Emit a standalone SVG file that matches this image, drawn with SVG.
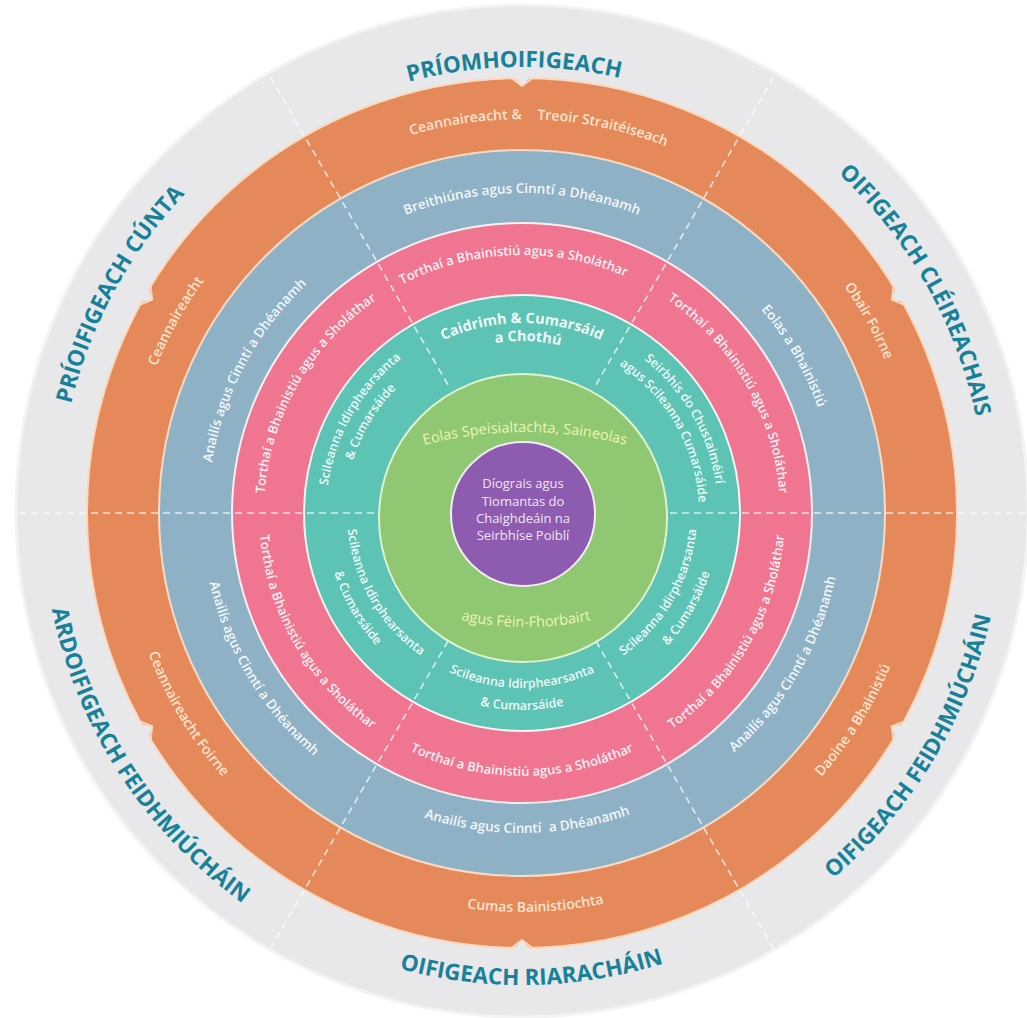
<svg xmlns="http://www.w3.org/2000/svg" width="1027" height="1018" viewBox="0 0 1027 1018">
<style>
text{font-family:"Open Sans","Liberation Sans",sans-serif;text-anchor:middle}
.title{font-weight:700;font-size:22.5px;fill:#17819a}
.lo{font-weight:600;font-size:14px;fill:#fde4cf}
.lb{font-weight:600;font-size:13.5px;fill:#f3f7fa}
.lp{font-weight:600;font-size:13px;fill:#fff0f3}
.lt{font-weight:600;font-size:12.5px;fill:#effaf7}
.ltb{font-weight:700;font-size:14.5px;fill:#effaf7}
.lg{font-weight:400;font-size:14.5px;fill:#eef6b0}
.lc{font-weight:400;font-size:13px;fill:#f2e6f7}
.div{stroke:#ffffff;stroke-opacity:0.75;stroke-width:1.6;stroke-dasharray:7 5;fill:none}
.notch{fill:#e8e8ea}
.notchEdge{fill:none;stroke:#fbd9bf;stroke-width:2}
</style>
<defs>
<path id="t446" d="M76,513 A446,446 0 0 1 968,513"/>
<path id="t464" d="M58,513 A464,464 0 0 1 986,513"/>
<path id="b472" d="M50,513 A472,472 0 0 0 994,513"/>
<path id="b480" d="M42,513 A480,480 0 0 0 1002,513"/>
<path id="t394" d="M128,513 A394,394 0 0 1 916,513"/>
<path id="b399" d="M123,513 A399,399 0 0 0 921,513"/>
<path id="t320" d="M202,513 A320,320 0 0 1 842,513"/>
<path id="t314" d="M208,513 A314,314 0 0 1 836,513"/>
<path id="b320" d="M202,513 A320,320 0 0 0 842,513"/>
<path id="t258" d="M264,513 A258,258 0 0 1 780,513"/>
<path id="b263" d="M259,513 A263,263 0 0 0 785,513"/>
<path id="t190" d="M332,513 A190,190 0 0 1 712,513"/>
<path id="t172" d="M350,513 A172,172 0 0 1 694,513"/>
<path id="t196" d="M326,513 A196,196 0 0 1 718,513"/>
<path id="t177" d="M345,513 A177,177 0 0 1 699,513"/>
<path id="b175" d="M347,513 A175,175 0 0 0 697,513"/>
<path id="b197" d="M325,513 A197,197 0 0 0 719,513"/>
<path id="g1" d="M125,832 A400,400 0 0 1 925,832"/>
<path id="g2" d="M226,327 A300,300 0 0 0 826,327"/>
</defs>
<rect width="1027" height="1018" fill="#ffffff"/>

<g id="ring-grades">
<circle cx="522" cy="511" r="506" fill="#e8e8ea" stroke="#f3f3f4" stroke-width="3"/>
<text class="title" transform="rotate(-1 522 513)"><textPath href="#t446" startOffset="50%">PRÍOMHOIFIGEACH</textPath></text>
<text class="title" transform="rotate(60.5 522 513)"><textPath href="#t464" startOffset="50%">OIFIGEACH CLÉIREACHAIS</textPath></text>
<text class="title" transform="rotate(-61.5 522 513)"><textPath href="#t464" startOffset="50%">PRÍOIFIGEACH CÚNTA</textPath></text>
<text class="title" transform="rotate(-1.2 522 513)"><textPath href="#b472" startOffset="50%">OIFIGEACH RIARACHÁIN</textPath></text>
<text class="title" transform="rotate(-59 522 513)"><textPath href="#b480" startOffset="50%">OIFIGEACH FEIDHMIÚCHÁIN</textPath></text>
<text class="title" transform="rotate(57 522 513)"><textPath href="#b480" startOffset="50%">ARDOIFIGEACH FEIDHMIÚCHÁIN</textPath></text>
</g>

<g id="ring-orange">
<circle cx="522" cy="513" r="435" fill="#e6895a" stroke="#fbd9bf" stroke-width="2"/>
<g id="notches">
<g transform="rotate(0 522 513)"><polygon class="notch" points="511,74 522,86 533,74"/><polyline class="notchEdge" points="511,77.6 522,86 533,77.6"/></g>
<g transform="rotate(60 522 513)"><polygon class="notch" points="511,74 522,86 533,74"/><polyline class="notchEdge" points="511,77.6 522,86 533,77.6"/></g>
<g transform="rotate(120 522 513)"><polygon class="notch" points="511,74 522,86 533,74"/><polyline class="notchEdge" points="511,77.6 522,86 533,77.6"/></g>
<g transform="rotate(180 522 513)"><polygon class="notch" points="511,74 522,86 533,74"/><polyline class="notchEdge" points="511,77.6 522,86 533,77.6"/></g>
<g transform="rotate(240 522 513)"><polygon class="notch" points="511,74 522,86 533,74"/><polyline class="notchEdge" points="511,77.6 522,86 533,77.6"/></g>
<g transform="rotate(300 522 513)"><polygon class="notch" points="511,74 522,86 533,74"/><polyline class="notchEdge" points="511,77.6 522,86 533,77.6"/></g>
</g>
<text class="lo" transform="rotate(2.5 522 513)"><textPath href="#t394" startOffset="50%">Ceannaireacht &amp;<tspan dx="12"> Treoir Straitéiseach</tspan></textPath></text>
<text class="lo" transform="rotate(-61 522 513)"><textPath href="#t394" startOffset="50%">Ceannaireacht</textPath></text>
<text class="lo" transform="rotate(61 522 513)"><textPath href="#t394" startOffset="50%">Obair Foirne</textPath></text>
<text class="lo" transform="rotate(-58 522 513)"><textPath href="#b399" startOffset="50%">Daoine a Bhainistiú</textPath></text>
<text class="lo" transform="rotate(59 522 513)"><textPath href="#b399" startOffset="50%">Ceannaireacht Foirne</textPath></text>
<text class="lo" transform="rotate(-2 522 513)"><textPath href="#b399" startOffset="50%">Cumas Bainistiochta</textPath></text>
</g>

<g id="ring-blue">
<circle cx="522" cy="513" r="363" fill="#8eb1c5" stroke="#f6dcc6" stroke-width="2"/>
<text class="lb"><textPath href="#t320" startOffset="50%">Breithiúnas agus Cinntí a Dhéanamh</textPath></text>
<text class="lb" transform="rotate(-62 522 513)"><textPath href="#t314" startOffset="50%">Anailís agus Cinntí a Dhéanamh</textPath></text>
<text class="lb" transform="rotate(60 522 513)"><textPath href="#t314" startOffset="50%">Eolas a Bhainistiú</textPath></text>
<text class="lb" transform="rotate(-60 522 513)"><textPath href="#b320" startOffset="50%">Anailís agus Cinntí a Dhéanamh</textPath></text>
<text class="lb" transform="rotate(59 522 513)"><textPath href="#b320" startOffset="50%">Anailís agus Cinntí a Dhéanamh</textPath></text>
<text class="lb" transform="rotate(-1 522 513)"><textPath href="#b320" startOffset="50%">Anailís agus Cinntí <tspan dx="4">a Dhéanamh</tspan></textPath></text>
</g>

<g id="ring-pink">
<circle cx="522" cy="513" r="290" fill="#f07590" stroke="#f7f0f2" stroke-width="2"/>
<text class="lp" transform="rotate(-2 522 513)"><textPath href="#t258" startOffset="50%">Torthaí a Bhainistiú agus a Sholáthar</textPath></text>
<text class="lp" transform="rotate(-60 522 513)"><textPath href="#t258" startOffset="50%">Torthaí a Bhainistiú agus a Sholáthar</textPath></text>
<text class="lp" transform="rotate(60 522 513)"><textPath href="#t258" startOffset="50%">Torthaí a Bhainistiú agus a Sholáthar</textPath></text>
<text class="lp" transform="rotate(-60 522 513)"><textPath href="#b263" startOffset="50%">Torthaí a Bhainistiú agus a Sholáthar</textPath></text>
<text class="lp" transform="rotate(60 522 513)"><textPath href="#b263" startOffset="50%">Torthaí a Bhainistiú agus a Sholáthar</textPath></text>
<text class="lp"><textPath href="#b263" startOffset="50%">Torthaí a Bhainistiú agus a Sholáthar</textPath></text>
</g>

<g id="ring-teal">
<circle cx="522" cy="513" r="218" fill="#5cc3b5" stroke="#f3f6f5" stroke-width="2"/>
<text class="ltb"><textPath href="#t190" startOffset="50%">Caidrimh &amp; Cumarsáid</textPath></text>
<text class="ltb" transform="rotate(2 522 513)"><textPath href="#t172" startOffset="50%">a Chothú</textPath></text>
<text class="lt" transform="rotate(60 522 513)"><textPath href="#t196" startOffset="50%">Seirbhís do Chustaiméirí</textPath></text>
<text class="lt" transform="rotate(60 522 513)"><textPath href="#t177" startOffset="50%">agus Scileanna Cumarsáide</textPath></text>
<text class="lt" transform="rotate(-60 522 513)"><textPath href="#t196" startOffset="50%">Scileanna Idirphearsanta</textPath></text>
<text class="lt" transform="rotate(-59 522 513)"><textPath href="#t177" startOffset="50%">&amp; Cumarsáide</textPath></text>
<text class="lt" transform="rotate(60 522 513)"><textPath href="#b175" startOffset="50%">Scileanna Idirphearsanta</textPath></text>
<text class="lt" transform="rotate(60 522 513)"><textPath href="#b197" startOffset="50%">&amp; Cumarsáide</textPath></text>
<text class="lt" transform="rotate(-60 522 513)"><textPath href="#b175" startOffset="50%">Scileanna Idirphearsanta</textPath></text>
<text class="lt" transform="rotate(-60 522 513)"><textPath href="#b197" startOffset="50%">&amp; Cumarsáide</textPath></text>
<text class="lt"><textPath href="#b175" startOffset="50%">Scileanna Idirphearsanta</textPath></text>
<text class="lt"><textPath href="#b197" startOffset="50%">&amp; Cumarsáide</textPath></text>
</g>

<g id="ring-green">
<circle cx="523" cy="518" r="144" fill="#8fc773" stroke="#dff3cf" stroke-width="2"/>
<text class="lg"><textPath href="#g1" startOffset="50%">Eolas Speisialtachta, Saineolas</textPath></text>
<text class="lg"><textPath href="#g2" startOffset="50%">agus Féin-Fhorbairt</textPath></text>
</g>

<g id="core-purple">
<circle cx="523" cy="514" r="72" fill="#8d5bb0" stroke="#f2eef4" stroke-width="2"/>
<text class="lc" x="523" y="488">Díograis agus</text>
<text class="lc" x="523" y="506">Tiomantas do</text>
<text class="lc" x="523" y="523">Chaighdeáin na</text>
<text class="lc" x="523" y="540">Seirbhíse Poiblí</text>
</g>

<g id="connectors">
<line class="div" x1="670" y1="513" x2="1027" y2="513"/>
<line class="div" x1="374" y1="513" x2="16" y2="513"/>
<line class="div" x1="596" y1="384.8" x2="775" y2="74.8"/>
<line class="div" x1="448" y1="384.8" x2="269" y2="74.8"/>
<line class="div" x1="448" y1="641.2" x2="269" y2="951.2"/>
<line class="div" x1="596" y1="641.2" x2="775" y2="951.2"/>
</g>
</svg>
